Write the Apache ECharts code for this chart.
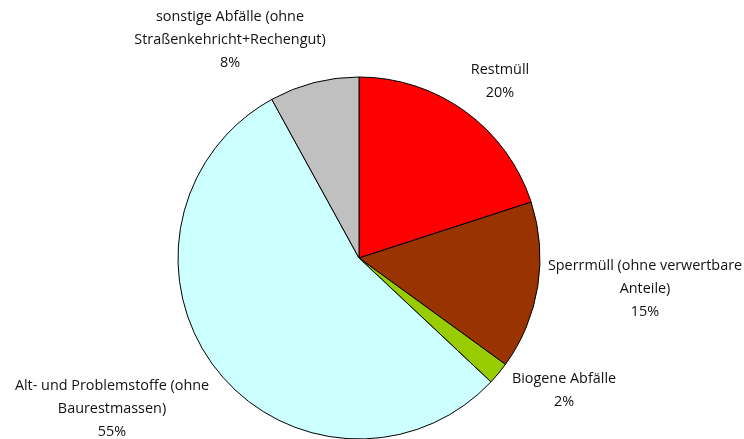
<!DOCTYPE html>
<html>
<head>
<meta charset="utf-8">
<script src="https://cdn.jsdelivr.net/npm/echarts@6/dist/echarts.min.js"></script>
<style>
  html, body { margin: 0; padding: 0; background: #ffffff; }
  #chart { width: 744px; height: 439px; }
</style>
</head>
<body>
<div id="chart"></div>
<script>
// Waste fractions (percent), clockwise from 12 o'clock
const categories = [
  'Restmüll',
  'Sperrmüll (ohne verwertbare\nAnteile)',
  'Biogene Abfälle',
  'Alt- und Problemstoffe (ohne\nBaurestmassen)',
  'sonstige Abfälle (ohne\nStraßenkehricht+Rechengut)'
];
const shares = [20, 15, 2, 55, 8];
const colors = ['#FF0000', '#993300', '#99CC00', '#CCFFFF', '#C0C0C0'];

// Centre point of each text block beside its slice
const labelCenters = [
  [500, 81],
  [645, 289],
  [564, 390],
  [112, 409],
  [230, 40]
];

const chart = echarts.init(document.getElementById('chart'), null, { renderer: 'canvas' });

chart.setOption({
  animation: false,
  backgroundColor: '#ffffff',
  series: [{
    type: 'pie',
    center: [359, 258],
    radius: [0, 181],
    startAngle: 90,
    clockwise: true,
    avoidLabelOverlap: false,
    itemStyle: { borderColor: '#000000', borderWidth: 1 },
    emphasis: { disabled: true },
    label: {
      show: true,
      position: 'inside',
      color: '#111111',
      fontFamily: 'Open Sans',
      fontSize: 14.4,
      lineHeight: 23,
      align: 'center',
      verticalAlign: 'middle',
      formatter: p => p.name + '\n' + Math.round(p.percent) + '%'
    },
    labelLine: { show: false },
    labelLayout: p => ({
      x: labelCenters[p.dataIndex][0],
      y: labelCenters[p.dataIndex][1]
    }),
    data: categories.map((name, i) => ({
      name: name,
      value: shares[i],
      itemStyle: { color: colors[i] }
    }))
  }]
});
</script>
</body>
</html>
